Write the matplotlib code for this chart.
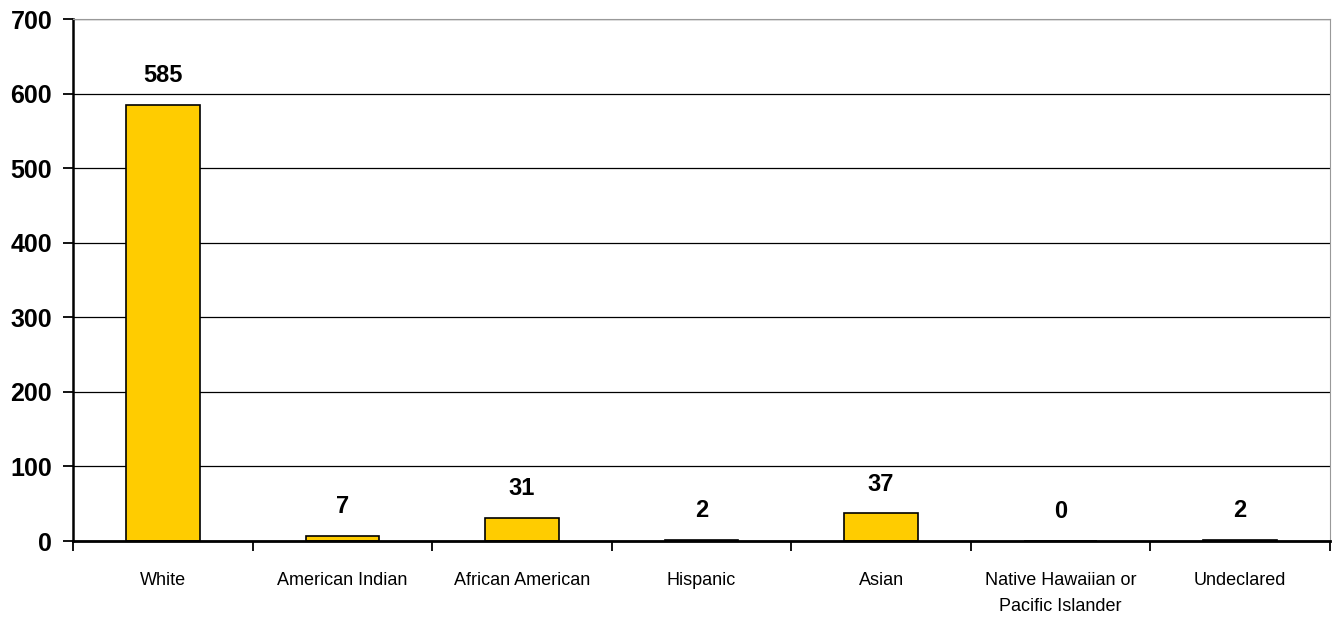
import numpy as np
import matplotlib
matplotlib.use('Agg')
from matplotlib import pyplot as plt

# chart data
categories = ['White', 'American Indian', 'African American', 'Hispanic',
              'Asian', 'Native Hawaiian or\nPacific Islander', 'Undeclared']
counts = [585, 7, 31, 2, 37, 0, 2]
y_ticks = [0, 100, 200, 300, 400, 500, 600, 700]

plt.rcParams['font.family'] = ['Liberation Sans', 'DejaVu Sans']


def main():
    fig = plt.figure(figsize=(13.33, 6.23), dpi=100)
    ax = fig.add_axes([0.0548, 0.1316, 0.9429, 0.8379])

    x = np.arange(len(categories))
    ax.bar(x, counts, width=0.41, color='#FFCC00', edgecolor='black',
           linewidth=1.2, zorder=3)

    for xi, v in zip(x, counts):
        ax.annotate(str(v), (xi, v), xytext=(0, 21), textcoords='offset points',
                    ha='center', va='center', fontsize=17, fontweight='bold',
                    zorder=4)

    ax.set_xlim(-0.5, len(categories) - 0.5)
    ax.set_ylim(0, 700)
    ax.set_yticks(y_ticks)
    ax.set_yticklabels([str(t) for t in y_ticks], fontsize=18, fontweight='bold')
    ax.yaxis.grid(True, color='black', linewidth=0.9, zorder=0)
    ax.set_axisbelow(True)

    # category ticks sit on the boundaries, labels in the middle
    ax.set_xticks(np.arange(len(categories) + 1) - 0.5)
    ax.set_xticklabels([])
    ax.set_xticks(x, minor=True)
    ax.set_xticklabels(categories, minor=True, fontsize=13, linespacing=1.7)
    ax.tick_params(axis='x', which='major', direction='out', length=7, width=1.3)
    ax.tick_params(axis='x', which='minor', length=0, pad=22)
    ax.tick_params(axis='y', direction='out', length=7, width=1.3, pad=8)

    ax.spines['left'].set_linewidth(1.8)
    ax.spines['bottom'].set_linewidth(2.0)
    ax.spines['bottom'].set_zorder(5)
    ax.spines['top'].set_color('#999999')
    ax.spines['right'].set_color('#999999')

    fig.savefig('out.png', dpi=100)
    plt.close(fig)


if __name__ == '__main__':
    main()
